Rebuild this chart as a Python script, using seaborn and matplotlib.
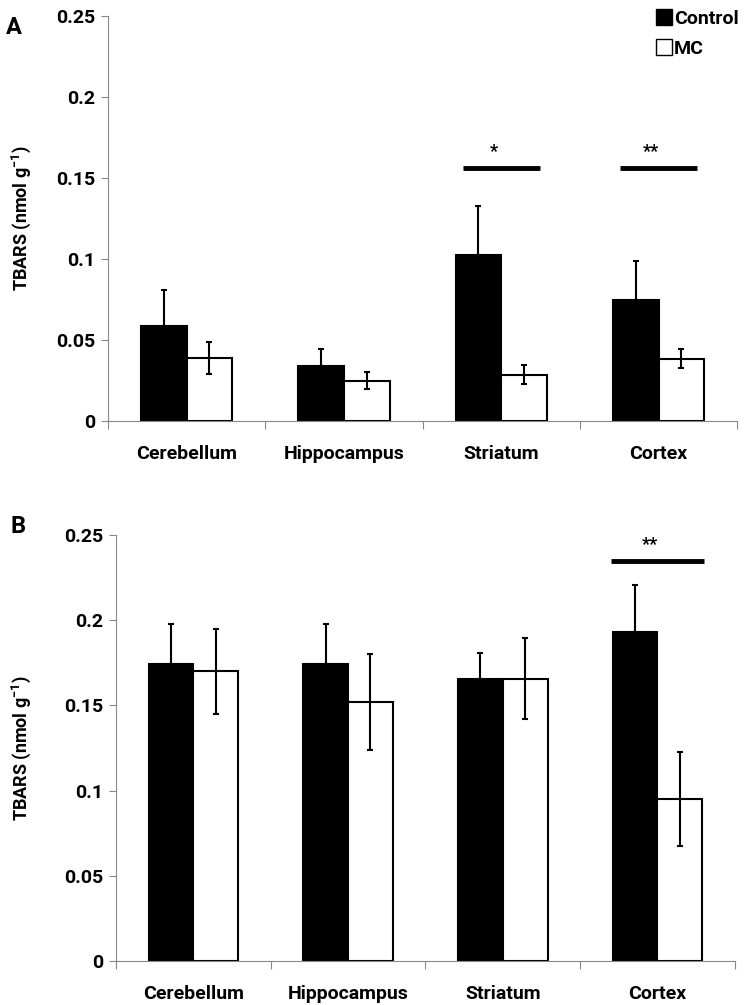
import pandas as pd
import numpy as np
import seaborn as sns
import matplotlib.pyplot as plt
from matplotlib.lines import Line2D
from matplotlib.ticker import MultipleLocator, FuncFormatter

sns.set_theme(style='white')
plt.rcParams['font.family'] = ['Roboto', 'DejaVu Sans']
plt.rcParams['font.weight'] = 'bold'
plt.rcParams['mathtext.fontset'] = 'custom'
plt.rcParams['mathtext.bf'] = 'Roboto:bold'
plt.rcParams['mathtext.rm'] = 'Roboto:bold'
plt.rcParams['mathtext.default'] = 'bf'
for k in ['text.color', 'axes.labelcolor', 'xtick.labelcolor', 'ytick.labelcolor']:
    plt.rcParams[k] = 'black'

regions = ['Cerebellum', 'Hippocampus', 'Striatum', 'Cortex']
groups = ['Control', 'MC']

# panel A
a_control = [0.059, 0.034, 0.1025, 0.075]
a_control_err = [0.022, 0.0105, 0.030, 0.024]
a_mc = [0.039, 0.025, 0.0286, 0.0385]
a_mc_err = [0.0097, 0.0053, 0.006, 0.0057]
a_sig = {'Striatum': '*', 'Cortex': '**'}
a_sig_y = 0.156

# panel B
b_control = [0.1745, 0.1745, 0.1657, 0.193]
b_control_err = [0.023, 0.023, 0.015, 0.0274]
b_mc = [0.170, 0.152, 0.1657, 0.095]
b_mc_err = [0.025, 0.028, 0.0235, 0.0274]
b_sig = {'Cortex': '**'}
b_sig_y = 0.2344


def panel(ax, control, control_err, mc, mc_err, sig, sig_y, sig_half):
    df = pd.DataFrame({
        'region': regions * 2,
        'group': ['Control'] * 4 + ['MC'] * 4,
        'value': control + mc,
    })
    sns.barplot(data=df, x='region', y='value', hue='group', order=regions,
                hue_order=groups, palette=['black', 'white'], edgecolor='black',
                linewidth=1.5, width=0.58, gap=0, errorbar=None, legend=False,
                ax=ax, saturation=1)
    # error bars: control only upward, MC both ways
    for cont, vals, errs, both in [(ax.containers[0], control, control_err, False),
                                   (ax.containers[1], mc, mc_err, True)]:
        xs = [p.get_x() + p.get_width() / 2 for p in cont]
        lower = errs if both else [0] * len(errs)
        ax.errorbar(xs, vals, yerr=[lower, errs], fmt='none', ecolor='black',
                    elinewidth=1.5, capsize=2.5, capthick=1.5, zorder=5)
    for reg, star in sig.items():
        i = regions.index(reg)
        ax.plot([i - sig_half, i + sig_half], [sig_y, sig_y], color='black', lw=3.5,
                solid_capstyle='butt')
        ax.text(i - 0.05, sig_y + 0.0045, star, ha='center', va='bottom',
                fontsize=13, fontweight='bold')

    ax.set_xlim(-0.5, 3.5)
    ax.set_ylim(0, 0.25)
    ax.yaxis.set_major_locator(MultipleLocator(0.05))
    ax.yaxis.set_major_formatter(FuncFormatter(lambda v, p: f'{v:g}'))
    ax.set_xticks(range(4))
    ax.set_xticklabels(regions)
    ax.set_xticks(np.arange(-0.5, 4, 1), minor=True)
    ax.tick_params(axis='x', which='major', length=0, pad=17, labelsize=14)
    ax.tick_params(axis='x', which='minor', length=6, width=0.8, color='#888888',
                   direction='out', bottom=True)
    ax.tick_params(axis='y', length=5, width=0.8, color='#888888', direction='out',
                   left=True, labelsize=14, pad=4)
    for lab in ax.get_xticklabels() + ax.get_yticklabels():
        lab.set_fontweight('bold')
    for s in ['top', 'right']:
        ax.spines[s].set_visible(False)
    for s in ['left', 'bottom']:
        ax.spines[s].set_color('#888888')
        ax.spines[s].set_linewidth(0.8)
    ax.set_xlabel('')
    ax.set_ylabel('TBARS (nmol g$^{-1}$)', fontsize=13, fontweight='bold')


fig = plt.figure(figsize=(7.5, 10.05), dpi=100)
ax_a = fig.add_axes([0.144, 0.581, 0.839, 0.403])
ax_b = fig.add_axes([0.1547, 0.0438, 0.825, 0.424])

panel(ax_a, a_control, a_control_err, a_mc, a_mc_err, a_sig, a_sig_y, 0.245)
panel(ax_b, b_control, b_control_err, b_mc, b_mc_err, b_sig, b_sig_y, 0.3)
ax_a.yaxis.set_label_coords(-0.119, 0.5)
ax_b.yaxis.set_label_coords(-0.134, 0.5)

handles = [Line2D([], [], marker='s', ls='none', markersize=12,
                  markerfacecolor='black', markeredgecolor='black'),
           Line2D([], [], marker='s', ls='none', markersize=12,
                  markerfacecolor='white', markeredgecolor='black', markeredgewidth=1)]
ax_a.legend(handles, groups, loc='upper right', bbox_to_anchor=(1.03, 1.058),
            frameon=False, handletextpad=0.1, labelspacing=0.6,
            prop={'weight': 'bold', 'size': 14}, handlelength=0.8)

fig.text(0.008, 0.973, 'A', fontsize=17, fontweight='bold', va='center')
fig.text(0.014, 0.476, 'B', fontsize=17, fontweight='bold', va='center')

fig.savefig('out.png', dpi=100)
